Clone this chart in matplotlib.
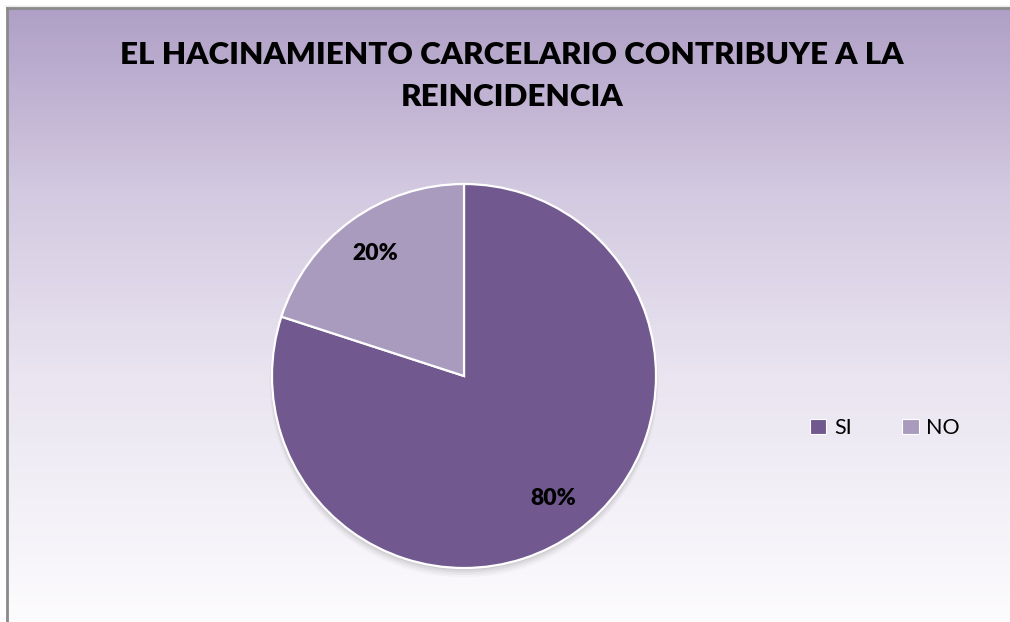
import numpy as np
import matplotlib
matplotlib.use("Agg")
import matplotlib.pyplot as plt
from matplotlib.patches import Patch, Rectangle, Circle
from matplotlib.colors import LinearSegmentedColormap

title = "EL HACINAMIENTO CARCELARIO CONTRIBUYE A LA\nREINCIDENCIA"
categories = ["SI", "NO"]
values = [80, 20]
colors = ["#71588f", "#a99bbe"]

W, H = 1010, 622
fig = plt.figure(figsize=(W / 100, H / 100), dpi=100)
fig.patch.set_facecolor("white")

# background gradient (horizontal bands)
bg = fig.add_axes([0, 0, 1, 1], zorder=0)
bg.axis("off")
cmap = LinearSegmentedColormap.from_list(
    "bg", [(0.0, "#af9fc6"), (0.3, "#d3c9e0"), (0.6, "#e9e4f0"), (1.0, "#fcfbfd")])
edges = np.linspace(8, H + 2, 300)
for y0, y1 in zip(edges[:-1], edges[1:]):
    t = (y0 - 8) / (H - 8)
    bg.add_patch(Rectangle((7, y0), W + 10, y1 - y0 + 0.6, facecolor=cmap(t),
                           edgecolor="none", lw=0))
# top shadow
for i, a in enumerate([0.08, 0.15, 0.25]):
    bg.add_patch(Rectangle((4 + i, 5 + i), W + 20, 1, facecolor="#808080", alpha=a,
                           edgecolor="none", lw=0))
bg.plot([7, 7], [8, H + 5], color="#8a8a8a", lw=2)
bg.plot([7, W + 5], [8, 8], color="#8a8a8a", lw=2)
bg.set_xlim(0, W)
bg.set_ylim(H, 0)

fig.text(512 / W, 1 - 76 / H, title, ha="center", va="center", fontsize=22.6,
         fontweight="heavy", family="Lato", linespacing=1.63)

# pie
cx, cy, r = 464, 376, 192
pad = 1.05
ax = fig.add_axes([(cx - r * pad) / W, (H - cy - r * pad) / H,
                   2 * pad * r / W, 2 * pad * r / H], zorder=2)
for k, a in enumerate([0.10, 0.08, 0.06, 0.04]):
    ax.add_patch(Circle((0.0, -0.012 - 0.008 * k), 1.0 + 0.004 * k, facecolor="#555555",
                        alpha=a, lw=0, edgecolor="none", zorder=0))
wedges, texts, autotexts = ax.pie(
    values, colors=colors, startangle=90, counterclock=False, radius=1.0,
    autopct="%d%%", pctdistance=0.79,
    wedgeprops=dict(edgecolor="white", linewidth=1.6),
    textprops=dict(fontsize=16.5, fontweight="heavy", family="Lato", color="black"))
ax.set_xlim(-pad, pad)
ax.set_ylim(-pad, pad)
ax.set_aspect("equal")
ax.axis("off")

handles = [Patch(facecolor=c, edgecolor="white", linewidth=0.8) for c in colors]
leg = fig.legend(handles, categories, loc="center", bbox_to_anchor=(885 / W, 1 - 428 / H),
                 ncol=2, frameon=False, prop=dict(family="Lato", size=15.5),
                 handlelength=0.75, handleheight=0.75, handletextpad=0.35,
                 columnspacing=2.35)

fig.savefig("out.png", dpi=100)
